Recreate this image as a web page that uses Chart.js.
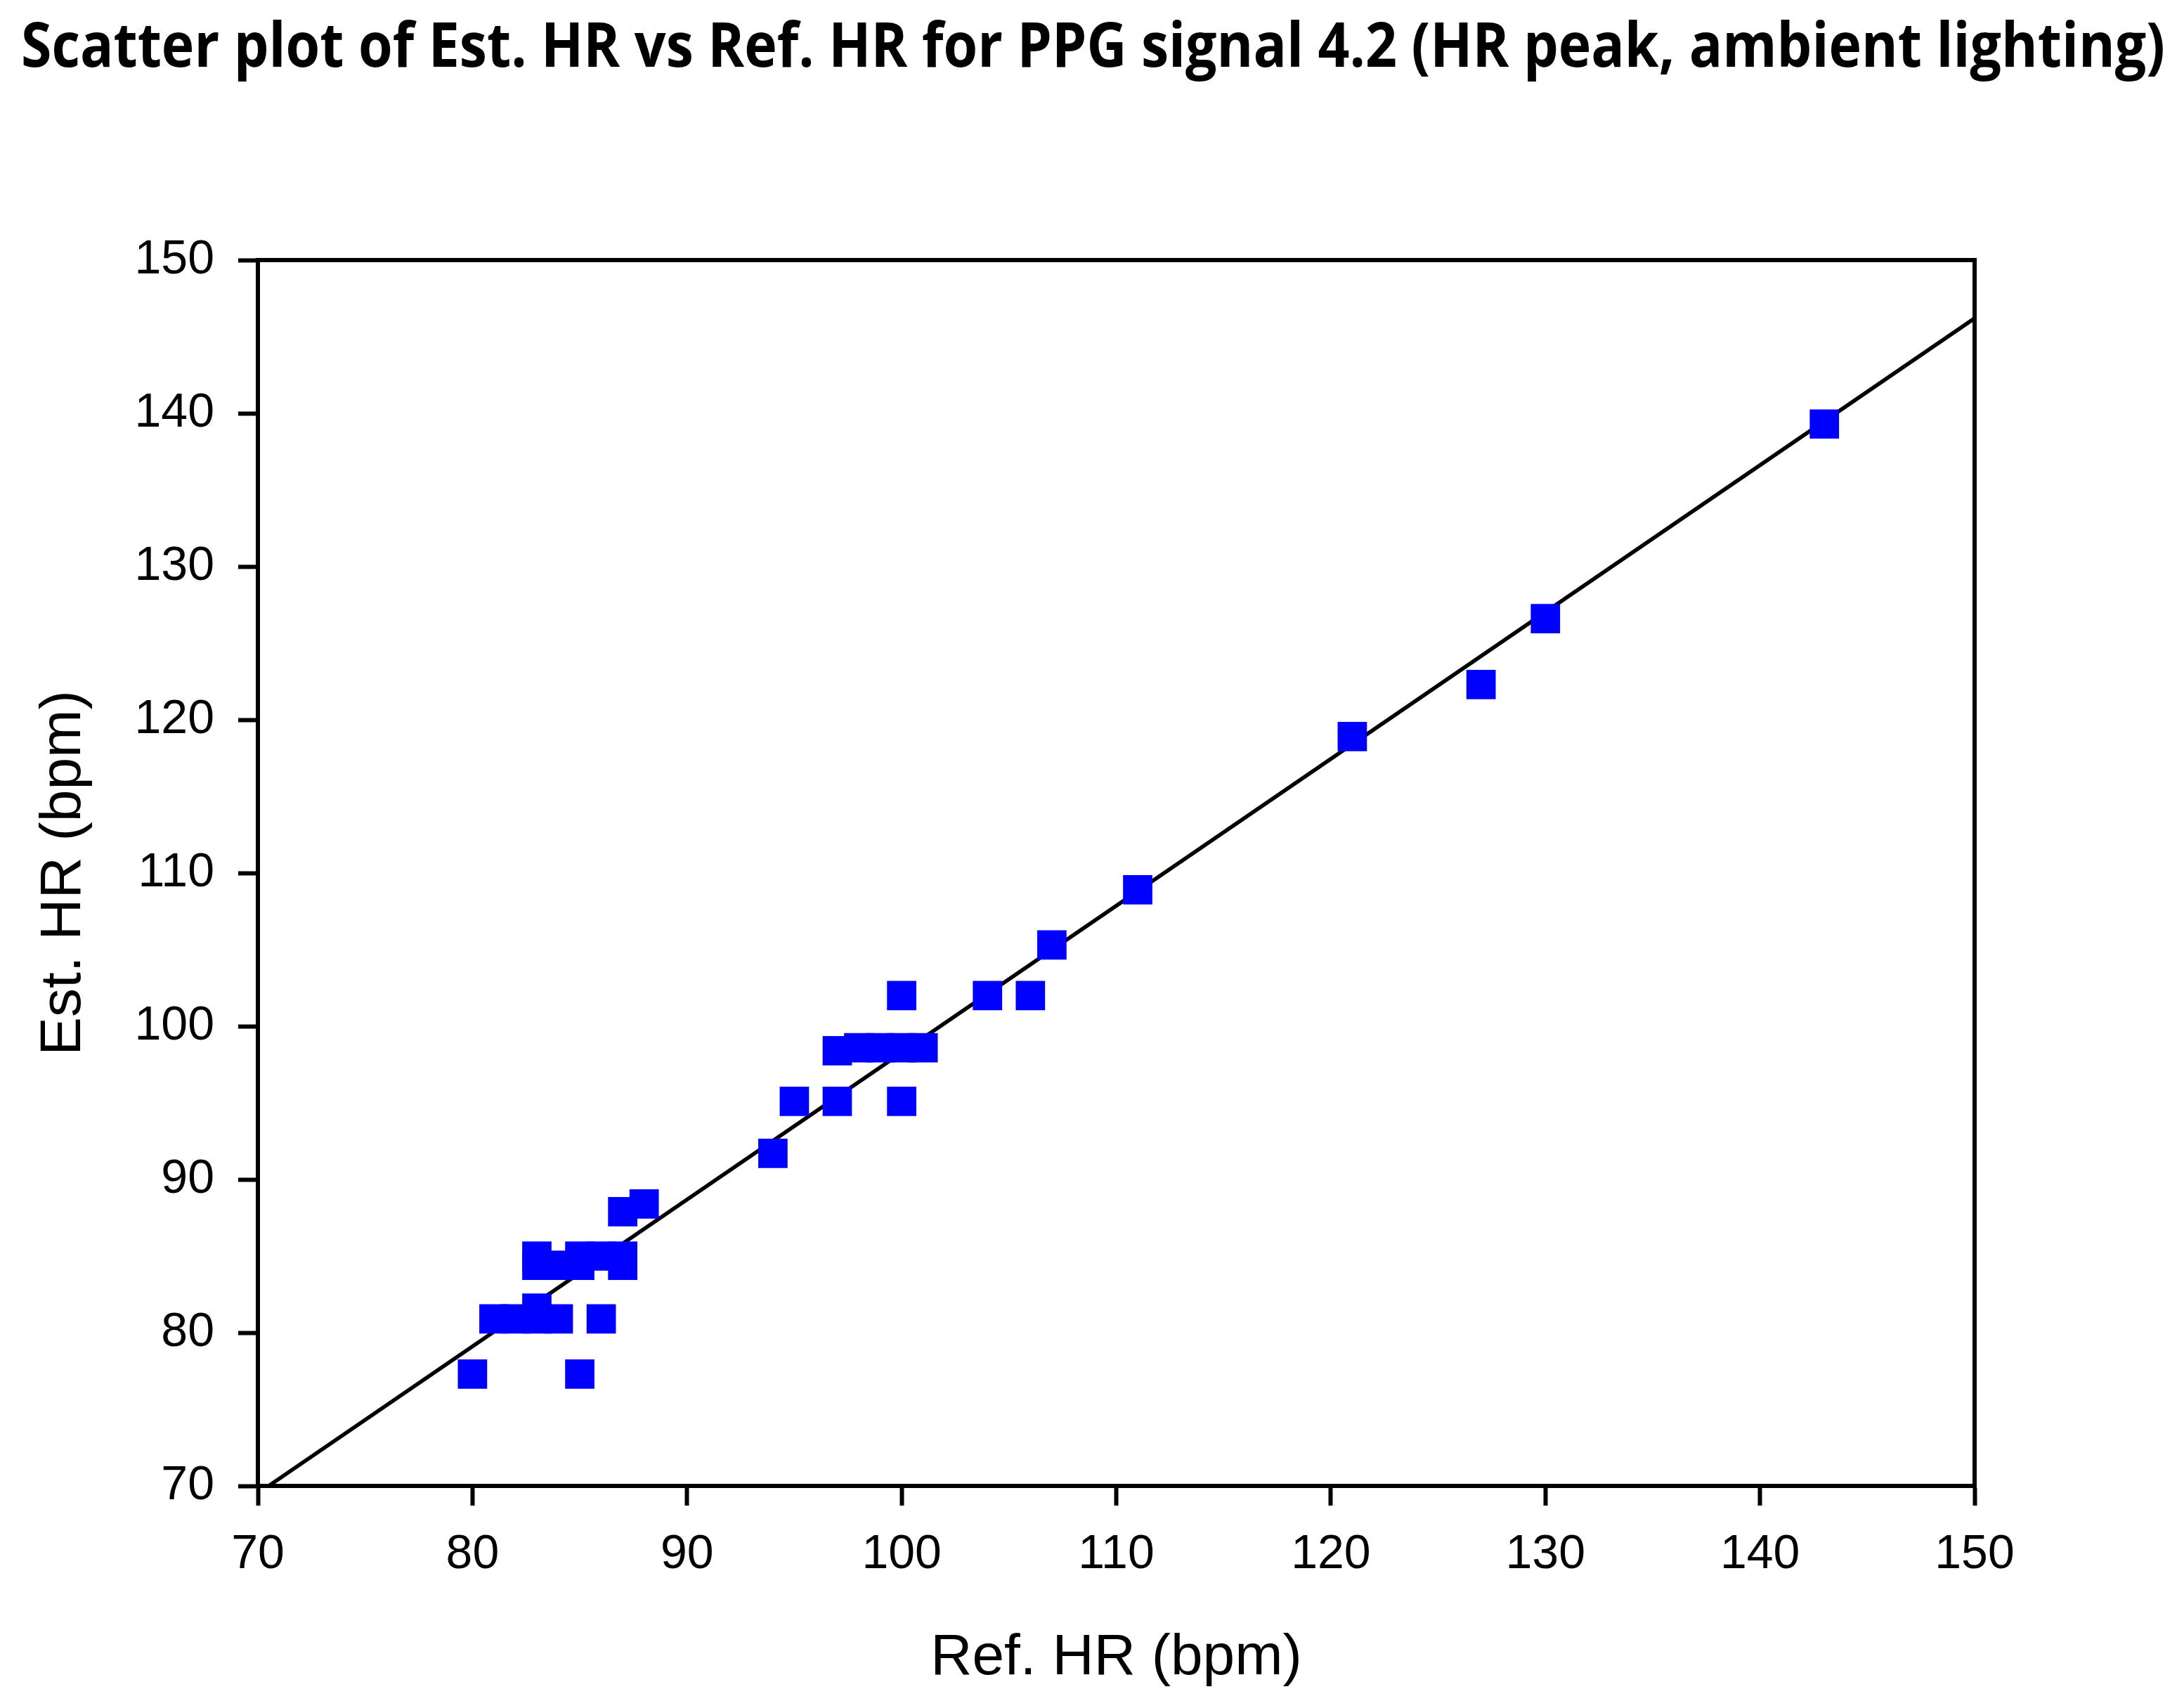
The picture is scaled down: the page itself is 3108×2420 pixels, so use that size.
<!DOCTYPE html>
<html>
<head>
<meta charset="utf-8">
<title>Est. HR vs Ref. HR</title>
<script src="https://cdn.jsdelivr.net/npm/chart.js@4.4.1/dist/chart.umd.min.js"></script>
<style>
  html, body { margin: 0; padding: 0; background: #fff; }
  canvas { display: block; }
</style>
</head>
<body>
<canvas id="myChart" width="3108" height="2420"></canvas>
<script>
var chartTitle = 'Scatter plot of Est. HR vs Ref. HR for PPG signal 4.2 (HR peak, ambient lighting)';

// reference heart rate (x) and estimated heart rate (y), bpm
var refHR = [80, 85, 81, 82, 83, 84, 86, 83, 83, 84, 85, 87, 83, 85, 86, 87, 87, 88,
             94, 95, 97, 100, 97, 98, 99, 100, 101, 100, 104, 106, 107, 111, 121, 127, 130, 143];
var estHR = [77.3, 77.3, 80.9, 80.9, 80.9, 80.9, 80.9, 81.6, 84.4, 84.4, 84.4, 84.4, 85.0, 85.0, 85.0, 85.0, 87.9, 88.4,
             91.7, 95.1, 95.1, 95.1, 98.4, 98.6, 98.6, 98.6, 98.6, 102.0, 102.0, 102.0, 105.3, 108.9, 118.9, 122.3, 126.6, 139.3];

// fitted line end points
var fitX = [70.5, 150];
var fitY = [70, 146.2];

var xTicks = [70, 80, 90, 100, 110, 120, 130, 140, 150];
var yTicks = [70, 80, 90, 100, 110, 120, 130, 140, 150];

var points = refHR.map(function(x, i) {
    return { x: x, y: estHR[i] };
});
var fitLine = fitX.map(function(x, i) {
    return { x: x, y: fitY[i] };
});

// box around the plot area + squeezed bold title
var framePlugin = {
    id: 'frame',
    afterDraw: function(chart) {
        var ctx = chart.ctx;
        var a = chart.chartArea;
        ctx.save();
        ctx.strokeStyle = '#000';
        ctx.lineWidth = 6;
        ctx.strokeRect(a.left, a.top, a.right - a.left, a.bottom - a.top);

        ctx.font = 'bold 87px "Open Sans"';
        ctx.fillStyle = '#000';
        ctx.textBaseline = 'alphabetic';
        ctx.textAlign = 'left';
        var w = ctx.measureText(chartTitle).width;
        var target = 3051;
        ctx.translate(30, 95);
        ctx.scale(target / w, 1);
        ctx.fillText(chartTitle, 0, 0);
        ctx.restore();
    }
};

var tickFont = { family: '"Liberation Sans", Arial, sans-serif', size: 68 };
var titleFont = { family: '"Liberation Sans", Arial, sans-serif', size: 82 };

var config = {
    type: 'scatter',
    data: {
        datasets: [{
            type: 'scatter',
            label: 'HR',
            data: points,
            pointStyle: 'rect',
            pointRadius: 29.5,
            pointHoverRadius: 29.5,
            pointBorderWidth: 0,
            backgroundColor: '#0000ff',
            borderColor: '#0000ff',
            order: 1
        }, {
            type: 'line',
            label: 'fit',
            data: fitLine,
            borderColor: '#000',
            borderWidth: 5.5,
            pointRadius: 0,
            fill: false,
            order: 2
        }]
    },
    options: {
        responsive: false,
        animation: false,
        devicePixelRatio: 1,
        layout: { padding: { top: 370, right: 298, left: 0, bottom: 0 } },
        plugins: {
            legend: { display: false },
            tooltip: { enabled: false }
        },
        scales: {
            x: {
                type: 'linear',
                min: 70,
                max: 150,
                afterBuildTicks: function(s) { s.ticks = xTicks.map(function(v) { return { value: v }; }); },
                afterFit: function(s) { s.height = 306; },
                grid: { drawOnChartArea: false, drawTicks: true, tickLength: 28, tickWidth: 6, tickColor: '#000' },
                border: { display: true, color: '#000', width: 6 },
                ticks: { color: '#000', font: tickFont, padding: 29, maxRotation: 0 },
                title: { display: true, text: 'Ref. HR (bpm)', color: '#000', font: titleFont, padding: { top: 0, bottom: 11 } }
            },
            y: {
                type: 'linear',
                min: 70,
                max: 150,
                afterBuildTicks: function(s) { s.ticks = yTicks.map(function(v) { return { value: v }; }); },
                afterFit: function(s) { s.width = 367; },
                grid: { drawOnChartArea: false, drawTicks: true, tickLength: 28, tickWidth: 6, tickColor: '#000' },
                border: { display: true, color: '#000', width: 6 },
                ticks: { color: '#000', font: tickFont, padding: 34 },
                title: { display: true, text: 'Est. HR (bpm)', color: '#000', font: titleFont, padding: { top: 42, bottom: 0 } }
            }
        }
    },
    plugins: [framePlugin]
};

var myChart = new Chart(document.getElementById('myChart').getContext('2d'), config);
</script>
</body>
</html>
